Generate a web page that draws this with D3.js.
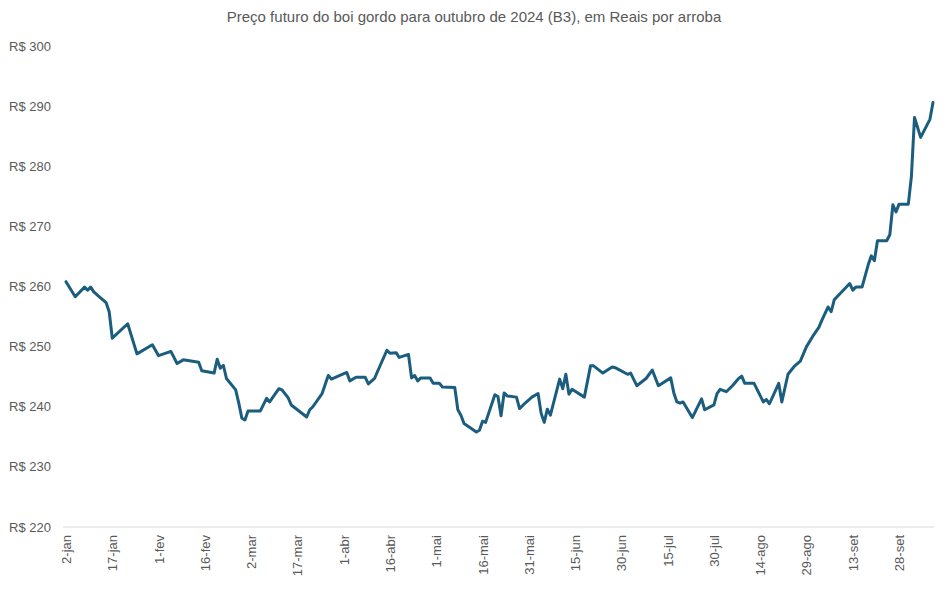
<!DOCTYPE html>
<html><head><meta charset="utf-8">
<script src="https://cdn.jsdelivr.net/npm/d3@7"></script>
<style>body{margin:0;background:#fff}svg{display:block}text{font-family:"Liberation Sans",Arial,sans-serif;fill:#595959}</style>
</head><body>
<svg id="c" width="948" height="589"></svg>
<script>
const dates = ["2024-01-02","2024-01-05","2024-01-08","2024-01-09","2024-01-10","2024-01-11","2024-01-13","2024-01-15","2024-01-16","2024-01-17","2024-01-22","2024-01-25","2024-01-30","2024-02-01","2024-02-05","2024-02-07","2024-02-09","2024-02-14","2024-02-15","2024-02-19","2024-02-20","2024-02-21","2024-02-22","2024-02-23","2024-02-26","2024-02-27","2024-02-28","2024-02-29","2024-03-01","2024-03-05","2024-03-07","2024-03-08","2024-03-11","2024-03-12","2024-03-14","2024-03-15","2024-03-20","2024-03-21","2024-03-22","2024-03-25","2024-03-27","2024-03-28","2024-04-02","2024-04-03","2024-04-05","2024-04-08","2024-04-09","2024-04-11","2024-04-12","2024-04-15","2024-04-16","2024-04-18","2024-04-19","2024-04-22","2024-04-23","2024-04-24","2024-04-25","2024-04-26","2024-04-29","2024-04-30","2024-05-02","2024-05-03","2024-05-07","2024-05-08","2024-05-09","2024-05-10","2024-05-14","2024-05-15","2024-05-16","2024-05-17","2024-05-20","2024-05-21","2024-05-22","2024-05-23","2024-05-24","2024-05-27","2024-05-28","2024-05-30","2024-06-01","2024-06-03","2024-06-04","2024-06-05","2024-06-06","2024-06-07","2024-06-10","2024-06-11","2024-06-12","2024-06-13","2024-06-14","2024-06-18","2024-06-20","2024-06-21","2024-06-24","2024-06-27","2024-06-28","2024-07-02","2024-07-03","2024-07-05","2024-07-08","2024-07-10","2024-07-12","2024-07-16","2024-07-17","2024-07-18","2024-07-19","2024-07-20","2024-07-23","2024-07-26","2024-07-27","2024-07-30","2024-07-31","2024-08-01","2024-08-03","2024-08-05","2024-08-07","2024-08-08","2024-08-09","2024-08-12","2024-08-15","2024-08-16","2024-08-17","2024-08-20","2024-08-21","2024-08-23","2024-08-25","2024-08-27","2024-08-29","2024-08-31","2024-09-02","2024-09-03","2024-09-05","2024-09-06","2024-09-07","2024-09-12","2024-09-13","2024-09-14","2024-09-16","2024-09-18","2024-09-19","2024-09-20","2024-09-21","2024-09-24","2024-09-25","2024-09-26","2024-09-27","2024-09-28","2024-10-01","2024-10-02","2024-10-03","2024-10-05","2024-10-08","2024-10-09"];
const prices = [260.8,258.3,259.9,259.4,259.9,259.1,258.2,257.3,255.8,251.4,253.8,248.8,250.3,248.5,249.2,247.2,247.8,247.4,246.0,245.6,247.9,246.4,246.9,244.7,242.8,240.6,238.1,237.8,239.3,239.3,241.4,240.8,243.0,242.8,241.5,240.3,238.3,239.5,240.0,242.2,245.2,244.6,245.7,244.3,244.9,244.9,243.8,244.7,245.9,249.4,248.9,249.0,248.2,248.7,244.8,245.2,244.3,244.8,244.8,243.9,243.9,243.3,243.2,239.5,238.6,237.2,235.8,236.1,237.6,237.4,242.0,241.7,238.5,242.3,241.8,241.6,239.7,240.7,241.6,242.2,238.9,237.4,239.6,238.6,244.6,243.0,245.4,242.1,242.9,241.6,246.8,246.8,245.6,246.6,246.5,245.4,245.6,243.5,244.7,246.1,243.5,244.8,242.3,240.8,240.6,240.8,238.2,241.3,239.5,240.3,242.2,242.9,242.5,243.5,244.7,245.1,243.9,243.9,240.8,241.2,240.5,243.9,240.8,245.4,246.7,247.6,250.0,251.7,253.2,254.4,256.6,255.8,257.8,260.5,259.4,259.9,259.9,263.6,265.1,264.3,267.6,267.6,268.6,273.6,272.4,273.7,273.7,278.3,288.1,284.8,287.8,290.6];
const yTicks = [220,230,240,250,260,270,280,290,300];
const monthNames = ["jan","fev","mar","abr","mai","jun","jul","ago","set","out","nov","dez"];
const title = "Preço futuro do boi gordo para outubro de 2024 (B3), em Reais por arroba";

const parse = d3.utcParse("%Y-%m-%d");
const data = dates.map((d,i)=>({date:parse(d), v:prices[i]}));
const svg = d3.select("#c");
const x = d3.scaleUtc().domain([data[0].date, data[data.length-1].date]).range([66,933]);
const y = d3.scaleLinear().domain([220,300]).range([527,46]);

svg.append("text").attr("x",474).attr("y",22).attr("text-anchor","middle")
  .style("font-size","15px").text(title);

svg.append("g").selectAll("text").data(yTicks).join("text")
  .attr("x",51).attr("y",d=>y(d)).attr("dy","0.35em").attr("text-anchor","end")
  .style("font-size","13px").text(d=>"R$ "+d);

svg.append("line").attr("x1",63).attr("x2",934).attr("y1",y(220)).attr("y2",y(220))
  .attr("stroke","#d9d9d9").attr("stroke-width",1);

const xt = d3.utcDay.range(data[0].date, d3.utcDay.offset(data[data.length-1].date,1)).filter((d,i)=>i%15===0);
svg.append("g").selectAll("text").data(xt).join("text")
  .attr("transform",d=>`translate(${x(d)+5},535) rotate(-90)`)
  .attr("text-anchor","end")
  .style("font-size","13px")
  .text(d=>d.getUTCDate()+"-"+monthNames[d.getUTCMonth()]);

svg.append("path").datum(data)
  .attr("fill","none").attr("stroke","#1b5d7f").attr("stroke-width",3)
  .attr("stroke-linejoin","round").attr("stroke-linecap","round")
  .attr("d",d3.line().x(d=>x(d.date)).y(d=>y(d.v)));
</script>
</body></html>
